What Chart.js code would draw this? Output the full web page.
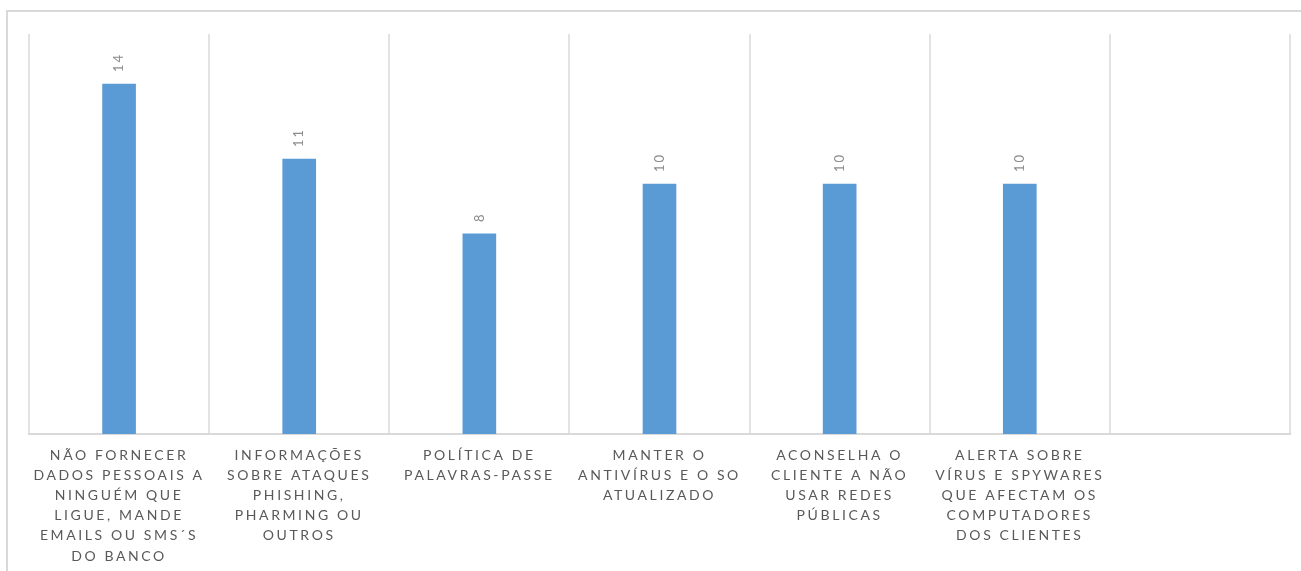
<!DOCTYPE html>
<html>
<head>
<meta charset="utf-8">
<script src="https://cdn.jsdelivr.net/npm/chart.js@4"></script>
<style>
  body { margin: 0; background: #fff; overflow: hidden; }
  #frame { position: absolute; left: 6px; top: 10px; width: 1400px; height: 700px;
           border-top: 2px solid #d9d9d9; border-left: 2px solid #d9d9d9; }
  #myChart { position: absolute; left: 0; top: 0; }
</style>
</head>
<body>
<div id="frame"></div>
<canvas id="myChart" width="1301" height="578"></canvas>
<script>
// categories (each label split into its lines as in the picture)
const categories = [
  ["NÃO FORNECER", "DADOS PESSOAIS A", "NINGUÉM QUE", "LIGUE, MANDE", "EMAILS OU SMS´S", "DO BANCO"],
  ["INFORMAÇÕES", "SOBRE ATAQUES", "PHISHING,", "PHARMING OU", "OUTROS"],
  ["POLÍTICA DE", "PALAVRAS-PASSE"],
  ["MANTER O", "ANTIVÍRUS E O SO", "ATUALIZADO"],
  ["ACONSELHA O", "CLIENTE A NÃO", "USAR REDES", "PÚBLICAS"],
  ["ALERTA SOBRE", "VÍRUS E SPYWARES", "QUE AFECTAM OS", "COMPUTADORES", "DOS CLIENTES"],
  ""
];
const values = [14, 11, 8, 10, 10, 10, null];

// spaced-out lettering like the original
const spacing = {
  id: 'spacing',
  beforeDraw(chart) { chart.ctx.letterSpacing = '2.6px'; }
};

// value labels, turned on their side above each bar
const barLabels = {
  id: 'barLabels',
  afterDatasetsDraw(chart) {
    const ctx = chart.ctx;
    const meta = chart.getDatasetMeta(0);
    meta.data.forEach(function(bar, i) {
      if (values[i] == null) return;
      ctx.save();
      ctx.letterSpacing = '2px';
      ctx.translate(bar.x, bar.y - 12);
      ctx.rotate(-Math.PI / 2);
      ctx.font = '13px Lato';
      ctx.fillStyle = '#8c8c8c';
      ctx.textAlign = 'left';
      ctx.textBaseline = 'middle';
      ctx.fillText(String(values[i]), 0, 0);
      ctx.restore();
    });
  }
};

const ctx = document.getElementById('myChart').getContext('2d');
const myChart = new Chart(ctx, {
  type: 'bar',
  data: {
    labels: categories,
    datasets: [{
      data: values,
      backgroundColor: '#5b9bd5',
      barThickness: 33
    }]
  },
  plugins: [spacing, barLabels],
  options: {
    responsive: false,
    animation: false,
    layout: { padding: { left: 29, right: 11, top: 34, bottom: 0 } },
    plugins: { legend: { display: false }, tooltip: { enabled: false } },
    scales: {
      x: {
        grid: { color: '#e3e3e3', lineWidth: 2, drawTicks: false, offset: true },
        border: { color: '#d9d9d9', width: 2 },
        ticks: {
          maxRotation: 0,
          autoSkip: false,
          padding: 12,
          color: '#595959',
          font: { family: 'Lato', size: 14, lineHeight: 1.43 }
        }
      },
      y: {
        display: false,
        min: 0,
        max: 16
      }
    }
  }
});
</script>
</body>
</html>
